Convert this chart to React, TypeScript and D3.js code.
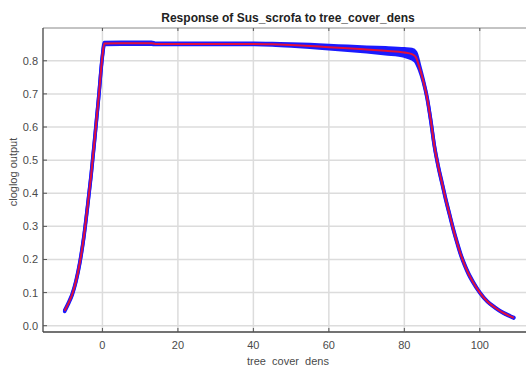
import * as d3 from "d3";

// tree cover density values (x) and the response curve
const treeCover = [
  -10, -9, -8, -7, -6, -5, -4, -3, -2, -1, 0, 0.5, 5, 13, 14, 20, 30, 40, 45, 50, 55, 60, 65,
  70, 75, 80, 82, 83, 84, 85, 86, 87, 88, 89, 90, 91, 92, 93, 94, 95, 96, 97, 98, 100, 102,
  104, 106, 108, 109,
];
const meanResponse = [
  0.045, 0.068, 0.095, 0.135, 0.19, 0.262, 0.355, 0.455, 0.57, 0.69, 0.815, 0.852, 0.853,
  0.853, 0.851, 0.851, 0.851, 0.851, 0.85, 0.848, 0.845, 0.841, 0.838, 0.834, 0.83, 0.825,
  0.82, 0.812, 0.78, 0.74, 0.69, 0.62, 0.54, 0.48, 0.43, 0.38, 0.335, 0.29, 0.25, 0.213,
  0.183, 0.157, 0.136, 0.1, 0.073, 0.055, 0.04, 0.029, 0.024,
];
const sdResponse = [
  0.002, 0.002, 0.002, 0.002, 0.002, 0.002, 0.002, 0.002, 0.002, 0.002, 0.002, 0.003, 0.003,
  0.003, 0.002, 0.002, 0.002, 0.002, 0.002, 0.003, 0.004, 0.005, 0.006, 0.007, 0.009, 0.011,
  0.014, 0.014, 0.007, 0.003, 0.002, 0.002, 0.002, 0.002, 0.002, 0.002, 0.002, 0.002, 0.002,
  0.002, 0.002, 0.002, 0.002, 0.001, 0.001, 0.001, 0.001, 0.001, 0.001,
];
const xTicks = [0, 20, 40, 60, 80, 100];
const yTicks = [0, 0.1, 0.2, 0.3, 0.4, 0.5, 0.6, 0.7, 0.8];

const W = 526;
const H = 365;
const PLOT = { left: 43, right: 530, top: 28, bottom: 332 };
const FONT = "'Liberation Sans', Arial, sans-serif";

type Pt = { x: number; m: number; sd: number };

export default function App() {
  const pts: Pt[] = treeCover.map((x, i) => ({ x, m: meanResponse[i], sd: sdResponse[i] }));

  const x = d3.scaleLinear().domain([-15.75, 113.3]).range([PLOT.left, PLOT.right]);
  const y = d3.scaleLinear().domain([-0.019, 0.899]).range([PLOT.bottom, PLOT.top]);

  const band = d3
    .area<Pt>()
    .x((d) => x(d.x))
    .y0((d) => y(d.m - d.sd))
    .y1((d) => y(d.m + d.sd))
    .curve(d3.curveMonotoneX)(pts);
  const upper = d3
    .line<Pt>()
    .x((d) => x(d.x))
    .y((d) => y(d.m + d.sd))
    .curve(d3.curveMonotoneX)(pts);
  const lower = d3
    .line<Pt>()
    .x((d) => x(d.x))
    .y((d) => y(d.m - d.sd))
    .curve(d3.curveMonotoneX)(pts);
  const meanLine = d3
    .line<Pt>()
    .x((d) => x(d.x))
    .y((d) => y(d.m))
    .curve(d3.curveMonotoneX)(pts);

  return (
    <svg
      width={W}
      height={H}
      style={{ position: "absolute", left: 0, top: 0, background: "#fff" }}
      fontFamily={FONT}
    >
      <rect x={0} y={0} width={W} height={H} fill="#fff" />

      {/* grid */}
      {xTicks.map((t) => (
        <line key={"gx" + t} x1={x(t)} x2={x(t)} y1={PLOT.top} y2={PLOT.bottom} stroke="#dcdcdc" strokeWidth={1.5} />
      ))}
      {yTicks.map((t) => (
        <line key={"gy" + t} x1={PLOT.left} x2={PLOT.right} y1={y(t)} y2={y(t)} stroke="#dcdcdc" strokeWidth={1.5} />
      ))}

      {/* frame */}
      <line x1={PLOT.left} x2={PLOT.right} y1={PLOT.top} y2={PLOT.top} stroke="#888" strokeWidth={1} />
      <line x1={PLOT.left} x2={PLOT.left} y1={PLOT.top} y2={PLOT.bottom} stroke="#444" strokeWidth={1.3} />
      <line x1={PLOT.left} x2={PLOT.right} y1={PLOT.bottom} y2={PLOT.bottom} stroke="#444" strokeWidth={1.3} />

      {/* tick marks */}
      {xTicks.map((t) => (
        <g key={"tx" + t}>
          <line x1={x(t)} x2={x(t)} y1={PLOT.bottom} y2={PLOT.bottom - 4} stroke="#555" strokeWidth={1} />
          <line x1={x(t)} x2={x(t)} y1={PLOT.top} y2={PLOT.top + 3} stroke="#555" strokeWidth={1} />
          <text x={x(t)} y={349} textAnchor="middle" fontSize={11} fill="#4a4a4a">
            {t}
          </text>
        </g>
      ))}
      {yTicks.map((t) => (
        <g key={"ty" + t}>
          <line x1={PLOT.left} x2={PLOT.left + 4} y1={y(t)} y2={y(t)} stroke="#555" strokeWidth={1} />
          <text x={38} y={y(t) + 4} textAnchor="end" fontSize={11} fill="#4a4a4a">
            {t.toFixed(1)}
          </text>
        </g>
      ))}

      {/* response curve: mean +/- sd in blue, mean in red */}
      <path d={band ?? ""} fill="#1a1aff" />
      <path d={upper ?? ""} fill="none" stroke="#1a1aff" strokeWidth={3.5} strokeLinecap="round" />
      <path d={lower ?? ""} fill="none" stroke="#1a1aff" strokeWidth={3.5} strokeLinecap="round" />
      <path d={meanLine ?? ""} fill="none" stroke="#e0103c" strokeWidth={2} />

      {/* titles */}
      <text x={288} y={22} textAnchor="middle" fontSize={12} fontWeight="bold" fill="#222">
        Response of Sus_scrofa to tree_cover_dens
      </text>
      <text x={288} y={364.5} textAnchor="middle" fontSize={11} fill="#4a4a4a">
        tree_cover_dens
      </text>
      <text transform="translate(17,172) rotate(-90)" textAnchor="middle" fontSize={11} fill="#4a4a4a">
        cloglog output
      </text>
    </svg>
  );
}
